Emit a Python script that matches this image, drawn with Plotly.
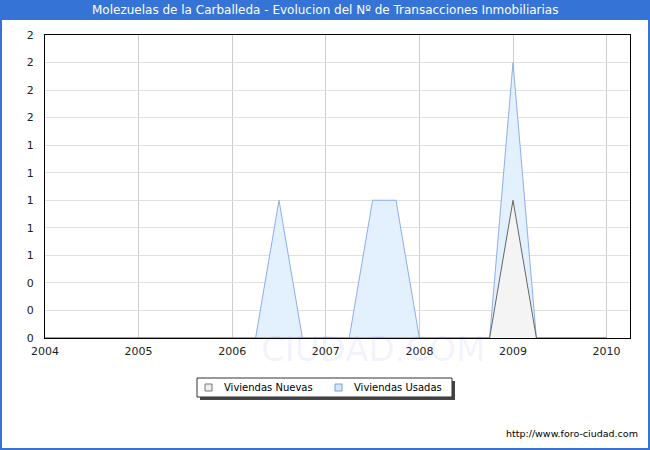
import plotly.graph_objects as go

# quarterly data, Q1 of a year sits on the year tick
quarters = ['2004-T1', '2004-T2', '2004-T3', '2004-T4',
            '2005-T1', '2005-T2', '2005-T3', '2005-T4',
            '2006-T1', '2006-T2', '2006-T3', '2006-T4',
            '2007-T1', '2007-T2', '2007-T3', '2007-T4',
            '2008-T1', '2008-T2', '2008-T3', '2008-T4',
            '2009-T1', '2009-T2', '2009-T3', '2009-T4',
            '2010-T1']
usadas = [0, 0, 0, 0,
          0, 0, 0, 0,
          0, 0, 1, 0,
          0, 0, 1, 1,
          0, 0, 0, 0,
          2, 0, 0, 0,
          0]
nuevas = [0, 0, 0, 0,
          0, 0, 0, 0,
          0, 0, 0, 0,
          0, 0, 0, 0,
          0, 0, 0, 0,
          1, 0, 0, 0,
          0]
year_ticks = [2004, 2005, 2006, 2007, 2008, 2009, 2010]
y_ticks = [0, 0.2, 0.4, 0.6, 0.8, 1.0, 1.2, 1.4, 1.6, 1.8, 2.0, 2.2]
y_labels = ['0', '0', '0', '1', '1', '1', '1', '1', '2', '2', '2', '2']

x = [int(q[:4]) + (int(q[-1]) - 1) / 4 for q in quarters]

W, H = 650, 450
L, R, T, B = 45, 20, 35, 112
pw, ph = W - L - R, H - T - B


def px(xp):
    return (xp - L) / pw


def py(yp):
    return (H - B - yp) / ph


def box(x0, y0, x1, y1, **kw):
    # rectangle given in page pixels
    return dict(type='rect', xref='paper', yref='paper',
                x0=px(x0), x1=px(x1), y0=py(y1), y1=py(y0), **kw)


def label(text, xp, yp, size, color='black', xanchor='center'):
    return dict(text=text, xref='paper', yref='paper', x=px(xp), y=py(yp),
                xanchor=xanchor, yanchor='middle', showarrow=False,
                font=dict(family=FONT, size=size, color=color))


BLUE = '#3673d6'
FONT = 'DejaVu Sans'

fig = go.Figure()
fig.add_trace(go.Scatter(
    x=x, y=usadas, name='Viviendas Usadas', mode='lines', showlegend=False,
    line=dict(color='#8caeea', width=1), fill='tozeroy', fillcolor='#e3f0fd'))
fig.add_trace(go.Scatter(
    x=x, y=nuevas, name='Viviendas Nuevas', mode='lines', showlegend=False,
    line=dict(color='#666666', width=1), fill='tozeroy', fillcolor='#f4f4f4'))

shapes = [
    box(0, 0, W, 20, fillcolor=BLUE, line=dict(width=0), layer='below'),        # title bar
    box(1, 1, W - 1, H - 1, line=dict(color=BLUE, width=2), layer='below'),     # frame
    # legend (drawn by hand to get the compact look of the original)
    box(200, 381, 455, 400, fillcolor='#444444', line=dict(width=0)),
    box(197, 378, 452, 397, fillcolor='white', line=dict(color='#333333', width=1)),
    box(205, 384, 212, 391, fillcolor='#eeeeee', line=dict(color='#777777', width=1)),
    box(335, 384, 342, 391, fillcolor='#d6e8fb', line=dict(color='#7d9fd8', width=1)),
]

annotations = [
    label('Molezuelas de la Carballeda - Evolucion del Nº de Transacciones Inmobiliarias',
          325, 10, 12, color='white'),
    # faint watermark, see-through so the year labels stay readable
    label('<span style="color:rgba(0,0,0,0.045)">FORO-</span>CIUDAD.COM', 318, 349, 34,
          color='rgba(70,70,230,0.08)'),
    label('Viviendas Nuevas', 222, 387.5, 10, xanchor='left'),
    label('Viviendas Usadas', 352, 387.5, 10, xanchor='left'),
    label('http://www.foro-ciudad.com', 640, 433, 9.5, xanchor='right'),
]

fig.update_layout(
    width=W, height=H,
    margin=dict(l=L, r=R, t=T, b=B),
    paper_bgcolor='white', plot_bgcolor='white',
    font=dict(family=FONT, size=11, color='#222222'),
    showlegend=False,
    shapes=shapes,
    annotations=annotations,
)
fig.update_xaxes(range=[2004, 2010.25], tickvals=year_ticks, ticktext=[str(t) for t in year_ticks],
                 showgrid=True, gridcolor='#cccccc', gridwidth=1, zeroline=False,
                 showline=True, linecolor='black', linewidth=1, mirror=True, ticks='',
                 ticklabelstandoff=3)
fig.update_yaxes(range=[0, 2.2], tickvals=y_ticks, ticktext=y_labels,
                 showgrid=True, gridcolor='#e0e0e0', gridwidth=1, zeroline=False,
                 showline=True, linecolor='black', linewidth=1, mirror=True, ticks='',
                 ticklabelstandoff=8)

fig.write_html('out.html', config={'displayModeBar': False},
               post_script="document.body.style.margin='0';")
